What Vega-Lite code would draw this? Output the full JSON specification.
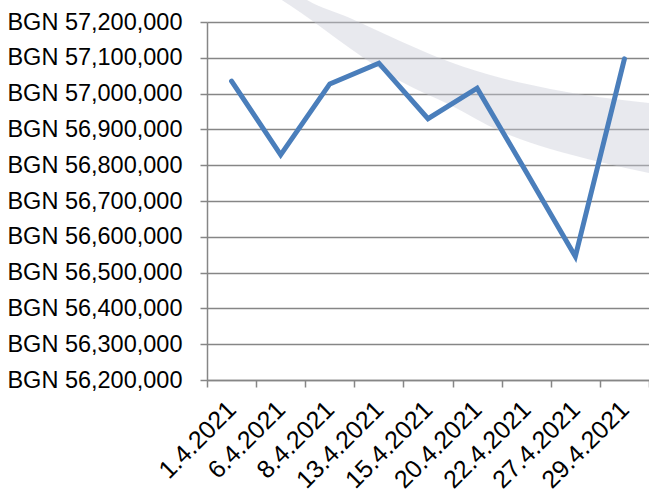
{
  "$schema": "https://vega.github.io/schema/vega-lite/v6.json",
  "width": 442,
  "height": 358,
  "autosize": {"type": "none"},
  "padding": {"left": 207, "top": 22, "right": 0, "bottom": 110},
  "background": "white",
  "config": {
    "view": {"stroke": null},
    "font": "Liberation Sans",
    "axis": {"labelFont": "Liberation Sans", "labelColor": "#000000", "labelOverlap": false},
    "axisY": {"labelOverlap": false}
  },
  "datasets": {
    "series": [
      {"date": "1.4.2021", "value": 57035000},
      {"date": "6.4.2021", "value": 56829000},
      {"date": "8.4.2021", "value": 57027000},
      {"date": "13.4.2021", "value": 57085000},
      {"date": "15.4.2021", "value": 56930000},
      {"date": "20.4.2021", "value": 57015000},
      {"date": "22.4.2021", "value": 56781000},
      {"date": "27.4.2021", "value": 56545000},
      {"date": "29.4.2021", "value": 57097000}
    ],
    "swoosh": [
      {"pos": 1.53, "lower": 57261000, "upper": 57317000},
      {"pos": 1.89, "lower": 57228000, "upper": 57275000},
      {"pos": 2.91, "lower": 57127000, "upper": 57211000},
      {"pos": 3.93, "lower": 57035000, "upper": 57147000},
      {"pos": 4.95, "lower": 56968000, "upper": 57088000},
      {"pos": 5.97, "lower": 56895000, "upper": 57044000},
      {"pos": 6.99, "lower": 56845000, "upper": 57013000},
      {"pos": 8.0, "lower": 56809000, "upper": 56990000},
      {"pos": 9.0, "lower": 56778000, "upper": 56974000}
    ]
  },
  "layer": [
    {
      "data": {"name": "swoosh"},
      "mark": {"type": "area", "interpolate": "monotone", "fill": "#c9cbd6", "opacity": 0.42, "clip": false},
      "encoding": {
        "x": {"field": "pos", "type": "quantitative", "scale": {"domain": [0, 9], "nice": false, "zero": false}, "axis": null},
        "y": {
          "field": "lower",
          "type": "quantitative",
          "scale": {"domain": [56200000, 57200000], "nice": false, "zero": false},
          "axis": {
            "title": null,
            "values": [56200000, 56300000, 56400000, 56500000, 56600000, 56700000, 56800000, 56900000, 57000000, 57100000, 57200000],
            "labelExpr": "'BGN ' + format(datum.value, ',')",
            "labelFontSize": 23.5,
            "labelPadding": 18,
            "labelOverlap": false,
            "tickSize": 7,
            "tickColor": "#868686",
            "tickWidth": 1.5,
            "domainColor": "#868686",
            "domainWidth": 1.5,
            "grid": true,
            "gridColor": "#868686",
            "gridWidth": 1.5
          }
        },
        "y2": {"field": "upper"}
      }
    },
    {
      "data": {"name": "series"},
      "mark": {"type": "line", "color": "#4a7ebb", "strokeWidth": 5, "strokeJoin": "miter", "strokeCap": "round"},
      "encoding": {
        "x": {
          "field": "date",
          "type": "ordinal",
          "sort": null,
          "scale": {"type": "band", "paddingInner": 0, "paddingOuter": 0},
          "axis": {
            "title": null,
            "labelAngle": -45,
            "labelAlign": "right",
            "labelBaseline": "middle",
            "labelFontSize": 25,
            "labelPadding": 18,
            "labelOverlap": false,
            "tickBand": "extent",
            "tickSize": 7,
            "tickColor": "#868686",
            "tickWidth": 1.5,
            "domainColor": "#868686",
            "domainWidth": 1.5,
            "grid": false
          }
        },
        "y": {
          "field": "value",
          "type": "quantitative",
          "scale": {"domain": [56200000, 57200000], "nice": false, "zero": false},
          "axis": {
            "title": null,
            "values": [56200000, 56300000, 56400000, 56500000, 56600000, 56700000, 56800000, 56900000, 57000000, 57100000, 57200000],
            "labelExpr": "'BGN ' + format(datum.value, ',')",
            "labelFontSize": 23.5,
            "labelPadding": 18,
            "labelOverlap": false,
            "tickSize": 7,
            "tickColor": "#868686",
            "tickWidth": 1.5,
            "domainColor": "#868686",
            "domainWidth": 1.5,
            "grid": true,
            "gridColor": "#868686",
            "gridWidth": 1.5
          }
        }
      }
    }
  ],
  "resolve": {"scale": {"x": "independent"}}
}
